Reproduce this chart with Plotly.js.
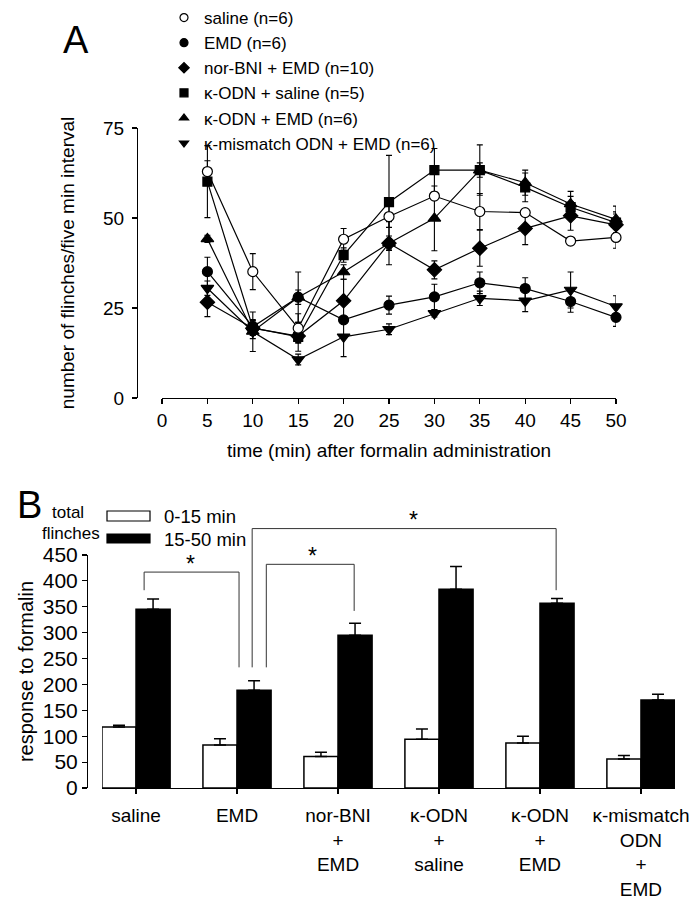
<!DOCTYPE html>
<html>
<head>
<meta charset="utf-8">
<script src="https://cdn.plot.ly/plotly-3.0.1.min.js"></script>
<style>
  body { margin: 0; background: #fff; }
  #chart { width: 699px; height: 900px; }
</style>
</head>
<body>
<div id="chart"></div>
<script>
// Panel A: flinches per 5 min interval
const timeMin = [5, 10, 15, 20, 25, 30, 35, 40, 45, 50];

const salineMean   = [62.9, 35.1, 19.4, 44.1, 50.4, 56.1, 51.8, 51.5, 43.6, 44.6];
const salineErr    = [3, 5, 4, 3, 3, 1, 5, 1, 1, 3];
const emdMean      = [35.1, 19.8, 28.0, 21.7, 25.8, 28.1, 32.0, 30.4, 26.8, 22.4];
const emdErr       = [4, 2, 7, 1, 2.5, 3.5, 3, 3, 3, 2.5];
const norBniMean   = [26.6, 19.4, 17.2, 27.0, 43.0, 35.6, 41.6, 47.1, 50.6, 48.1];
const norBniErr    = [4, 2, 2, 6, 6, 2.5, 5, 4.5, 4, 3];
const odnSalMean   = [60.1, 19.5, 17.0, 39.7, 54.4, 63.3, 63.3, 58.5, 53.0, 48.7];
const odnSalErr    = [10, 2, 4, 2, 13, 6, 7, 4, 3, 3];
const odnEmdMean   = [44.2, 18.5, 28.0, 35.0, 43.0, 49.9, 63.3, 59.8, 53.9, 49.6];
const odnEmdErr    = [1, 2, 2, 2, 2, 9, 2, 3.5, 3.5, 3.7];
const mismatchMean = [30.5, 18.4, 10.7, 17.0, 19.1, 23.5, 27.7, 27.0, 30.0, 25.4];
const mismatchErr  = [2, 5.5, 1.5, 5.5, 1.5, 1, 2, 3, 5, 3];

const seriesNames = ['saline (n=6)', 'EMD (n=6)', 'nor-BNI + EMD (n=10)',
  'κ-ODN + saline (n=5)', 'κ-ODN + EMD (n=6)', 'κ-mismatch ODN + EMD (n=6)'];

// Panel B: total flinches
const groups = ['saline', 'EMD', 'nor-BNI<br>+<br>EMD', 'κ-ODN<br>+<br>saline',
  'κ-ODN<br>+<br>EMD', 'κ-mismatch<br>ODN<br>+<br>EMD'];
const early    = [118, 83, 61, 94, 87, 56];
const earlyErr = [3, 12, 8, 20, 13, 7];
const late     = [345, 189, 295, 384, 357, 170];
const lateErr  = [20, 18, 23, 44, 9, 11];
const yMaxB = 450;

// significance brackets: [x left, x right, left foot, top, right foot]
const brackets = [
  [0.08, 1.02, 382, 417, 233],
  [1.29, 2.16, 233, 432, 342],
  [1.15, 4.16, 233, 501, 382]
];
const stars = [[0.54, 433], [1.75, 448], [2.745, 517]];

const FONT = 'Liberation Sans, Arial, sans-serif';
const W = 699, H = 900;
const px = v => v / W;
const py = v => 1 - v / H;

const symbols = ['circle', 'circle', 'diamond', 'square', 'triangle-up', 'triangle-down'];
const fills = ['white', 'black', 'black', 'black', 'black', 'black'];
const sizes = [10, 10, 11, 9, 11, 11];
const means = [salineMean, emdMean, norBniMean, odnSalMean, odnEmdMean, mismatchMean];
const errs = [salineErr, emdErr, norBniErr, odnSalErr, odnEmdErr, mismatchErr];

const traces = [];
// filled ones first, open circles on top
[1, 2, 3, 4, 5, 0].forEach(i => {
  traces.push({
    x: timeMin, y: means[i], type: 'scatter', mode: 'lines+markers',
    xaxis: 'x', yaxis: 'y', showlegend: false, cliponaxis: false,
    line: {color: 'black', width: 1.2},
    marker: {symbol: symbols[i], size: sizes[i], color: fills[i], line: {color: 'black', width: 1.2}},
    error_y: {type: 'data', array: errs[i], color: 'black', thickness: 1.1, width: 3}
  });
});
// legend entries (markers only)
seriesNames.forEach((name, i) => {
  traces.push({
    x: [null], y: [null], type: 'scatter', mode: 'markers', name: name,
    xaxis: 'x', yaxis: 'y',
    marker: {symbol: symbols[i], size: 8, color: fills[i], line: {color: 'black', width: 1.2}}
  });
});

const idx = groups.map((g, i) => i);
traces.push({
  x: idx, y: early, type: 'bar', xaxis: 'x2', yaxis: 'y2', showlegend: false,
  marker: {color: 'white', line: {color: 'black', width: 1.5}},
  error_y: {type: 'data', symmetric: false, array: earlyErr, arrayminus: earlyErr.map(() => 0),
    color: 'black', thickness: 1.5, width: 6}
});
traces.push({
  x: idx, y: late, type: 'bar', xaxis: 'x2', yaxis: 'y2', showlegend: false,
  marker: {color: 'black', line: {color: 'black', width: 1.5}},
  error_y: {type: 'data', symmetric: false, array: lateErr, arrayminus: lateErr.map(() => 0),
    color: 'black', thickness: 1.5, width: 6}
});

// bracket lines go above the axis top, so use the y2 domain reference (not clipped vertically)
const shapes = [
  {type: 'rect', xref: 'paper', yref: 'paper', x0: px(107), x1: px(150), y0: py(521), y1: py(511),
   line: {color: 'black', width: 1.2}, fillcolor: 'white'},
  {type: 'rect', xref: 'paper', yref: 'paper', x0: px(107), x1: px(150), y0: py(543), y1: py(534),
   line: {color: 'black', width: 1.2}, fillcolor: 'black'}
];
const bline = (x0, y0, x1, y1) => ({
  type: 'line', xref: 'x2', yref: 'y2 domain', x0: x0, x1: x1, y0: y0 / yMaxB, y1: y1 / yMaxB,
  line: {color: '#333', width: 1}
});
brackets.forEach(b => {
  shapes.push(bline(b[0], b[2], b[0], b[3]));
  shapes.push(bline(b[0], b[3], b[1], b[3]));
  shapes.push(bline(b[1], b[3], b[1], b[4]));
});

const axisCommon = {
  showline: true, linecolor: 'black', linewidth: 1.2, showgrid: false, zeroline: false,
  ticks: 'outside', ticklen: 5, tickwidth: 1.2, tickcolor: 'black',
  tickfont: {family: FONT, size: 19, color: 'black'}
};

const txt = (text, x, y, size, anchor) => ({
  text: text, x: px(x), y: py(y), xref: 'paper', yref: 'paper', showarrow: false,
  xanchor: anchor || 'center', yanchor: 'middle',
  font: {family: FONT, size: size, color: 'black'}
});
const annotations = [
  txt('A', 76, 40, 38),
  txt('B', 29, 505, 38),
  txt('total', 68, 512, 17),
  txt('flinches', 71, 533, 17),
  txt('0-15 min', 162, 516, 18.5, 'left'),
  txt('15-50 min', 162, 539, 18.5, 'left')
];
stars.forEach(s => {
  annotations.push({text: '*', x: s[0], y: s[1] / yMaxB, xref: 'x2', yref: 'y2 domain',
    xanchor: 'center', yanchor: 'middle', showarrow: false,
    font: {family: FONT, size: 23, color: 'black'}});
});

const layout = {
  width: W, height: H,
  margin: {l: 0, r: 0, t: 0, b: 0},
  paper_bgcolor: 'white', plot_bgcolor: 'white',
  font: {family: FONT, color: 'black'},
  barmode: 'group', bargap: 0.325, bargroupgap: 0,
  showlegend: true,
  legend: {x: px(164), xanchor: 'left', y: 1, yanchor: 'top',
    font: {family: FONT, size: 17, color: 'black'}, bgcolor: 'rgba(0,0,0,0)', tracegroupgap: 0},
  xaxis: Object.assign({}, axisCommon, {
    domain: [px(162), px(616)], anchor: 'y', range: [0, 50], tick0: 0, dtick: 5,
    title: {text: 'time (min) after formalin administration', font: {family: FONT, size: 19}, standoff: 13}
  }),
  yaxis: Object.assign({}, axisCommon, {
    domain: [py(398), py(128)], anchor: 'free', position: px(137), range: [0, 75], tick0: 0, dtick: 25,
    ticklabelstandoff: 4,
    title: {text: 'number of flinches/five min interval', font: {family: FONT, size: 19}, standoff: 22}
  }),
  xaxis2: Object.assign({}, axisCommon, {
    domain: [px(102), px(675)], anchor: 'y2', range: [-0.337, 5.337],
    tickvals: idx, ticktext: groups, ticklabelstandoff: 5,
    tickfont: {family: FONT, size: 19, color: 'black'}
  }),
  yaxis2: Object.assign({}, axisCommon, {
    domain: [py(788), py(555)], anchor: 'free', position: px(87), range: [0, yMaxB], tick0: 0, dtick: 50,
    tickfont: {family: FONT, size: 21, color: 'black'},
    title: {text: 'response to formalin', font: {family: FONT, size: 20}, standoff: 2}
  }),
  shapes: shapes,
  annotations: annotations
};

Plotly.newPlot('chart', traces, layout, {staticPlot: true});
</script>
</body>
</html>
